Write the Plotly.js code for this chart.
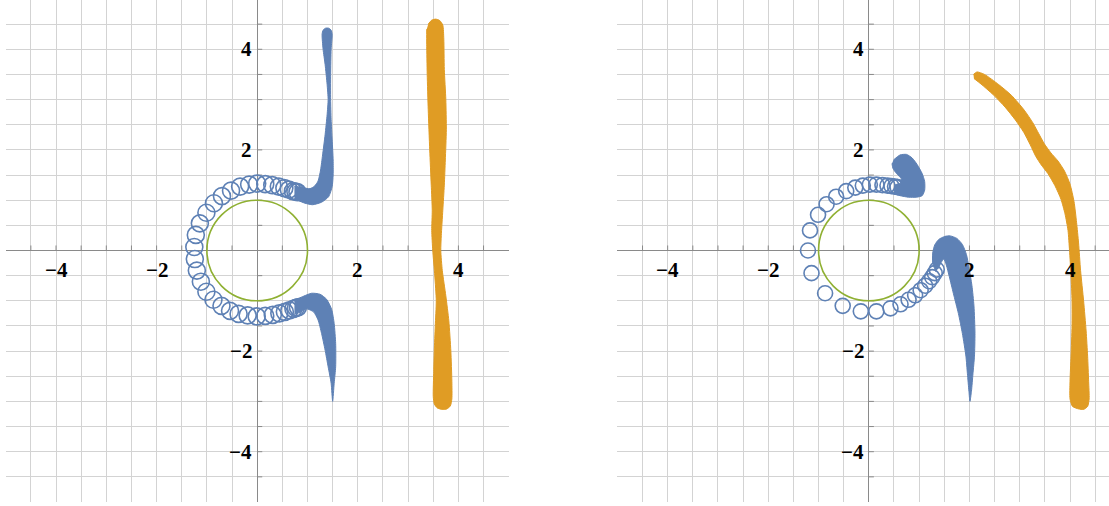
<!DOCTYPE html>
<html>
<head>
<meta charset="utf-8">
<script src="https://cdn.plot.ly/plotly-3.0.1.min.js"></script>
<style>
  html, body { margin: 0; padding: 0; background: #ffffff; }
  #plot { width: 1109px; height: 506px; }
</style>
</head>
<body>
<div id="plot"></div>
<script>
// ---------- axes ----------
const xRangeLeft = [-5, 5];
const xRangeRight = [-5, 4.775];
const yRange = [-5, 4.98];
const minorTickValues = [-4.5, -4, -3.5, -3, -2.5, -2, -1.5, -1, -0.5, 0.5, 1, 1.5, 2, 2.5, 3, 3.5, 4, 4.5];
const labelValues = [-4, -2, 2, 4];
const labelText = ['\u22124', '\u22122', '2', '4'];

// ---------- unit circle ----------
const circleCenter = [0, 0];
const circleRadius = 1;

// ---------- left panel ----------
// small loops around the unit circle (centres)
const leftLoopX = [-1.25, -1.22, -1.14, -1.01, -0.86, -0.70, -0.52, -0.34, -0.16, 0.00, 0.16, 0.30, 0.43, 0.54, 0.63, 0.71, 0.76, 0.80,
                   -1.24, -1.20, -1.12, -1.01, -0.87, -0.71, -0.54, -0.37, -0.19, -0.01, 0.16, 0.31, 0.44, 0.55, 0.64, 0.72, 0.77, 0.81];
const leftLoopY = [0.07, 0.31, 0.54, 0.75, 0.94, 1.08, 1.19, 1.27, 1.31, 1.33, 1.32, 1.30, 1.27, 1.24, 1.21, 1.18, 1.17, 1.16,
                   -0.17, -0.40, -0.62, -0.82, -0.98, -1.10, -1.20, -1.26, -1.29, -1.31, -1.30, -1.28, -1.25, -1.22, -1.19, -1.16, -1.14, -1.13];

// dense upper arm (outline)
const leftUpperArmX = [0.74, 0.90, 1.05, 1.14, 1.21, 1.26, 1.30, 1.35, 1.39, 1.41, 1.39, 1.35, 1.31, 1.29, 1.31, 1.36, 1.42, 1.47, 1.49,
                       1.47, 1.46, 1.46, 1.47, 1.49, 1.51, 1.51, 1.49, 1.42, 1.28, 1.10, 0.95, 0.80, 0.74];
const leftUpperArmY = [1.28, 1.25, 1.23, 1.28, 1.38, 1.60, 1.90, 2.30, 2.70, 3.00, 3.30, 3.70, 4.00, 4.30, 4.38, 4.42, 4.42, 4.38, 4.30,
                       4.00, 3.50, 3.00, 2.60, 2.20, 1.80, 1.50, 1.27, 1.07, 0.96, 0.91, 0.94, 1.00, 1.03];

// dense lower arm (outline)
const leftLowerArmX = [0.74, 0.85, 1.08, 1.25, 1.38, 1.48, 1.53, 1.56, 1.56, 1.53, 1.50, 1.47, 1.41, 1.35, 1.28, 1.21, 1.12, 0.98, 0.85, 0.74];
const leftLowerArmY = [-0.98, -0.94, -0.85, -0.87, -0.97, -1.17, -1.45, -1.85, -2.31, -2.64, -3.00, -2.64, -2.31, -1.98, -1.65, -1.38, -1.22, -1.16, -1.23, -1.26];

// orange strand (outline)
const leftOrangeX = [3.40, 3.47, 3.55, 3.63, 3.69, 3.71, 3.72, 3.75, 3.76, 3.74, 3.72, 3.69, 3.66, 3.65, 3.68, 3.75, 3.81, 3.85, 3.87, 3.87,
                     3.84, 3.77, 3.68, 3.58, 3.52, 3.50, 3.51, 3.52, 3.54, 3.56, 3.53, 3.49, 3.47, 3.48, 3.46, 3.43, 3.40, 3.38, 3.37, 3.37];
const leftOrangeY = [4.50, 4.58, 4.60, 4.57, 4.48, 4.20, 3.60, 3.00, 2.40, 1.80, 1.30, 0.80, 0.30, 0.00, -0.40, -0.90, -1.40, -2.00, -2.60, -2.95,
                     -3.09, -3.15, -3.16, -3.13, -3.05, -2.90, -2.40, -2.00, -1.50, -1.00, -0.50, 0.00, 0.40, 0.80, 1.30, 2.00, 2.80, 3.50, 4.10, 4.40];

// ---------- right panel ----------
const rightLoopX = [-1.21, -1.17, -1.01, -0.84, -0.65, -0.45, -0.27, -0.12, 0.02, 0.15, 0.27, 0.37, 0.45, 0.52, 0.57,
                    -1.14, -0.87, -0.52, -0.16, 0.15, 0.43, 0.63, 0.79, 0.92, 1.03, 1.12, 1.20, 1.26, 1.31, 1.35];
const rightLoopY = [0.00, 0.40, 0.71, 0.92, 1.07, 1.18, 1.25, 1.29, 1.31, 1.31, 1.30, 1.29, 1.28, 1.27, 1.26,
                    -0.45, -0.85, -1.10, -1.21, -1.21, -1.15, -1.07, -0.98, -0.89, -0.79, -0.70, -0.61, -0.53, -0.45, -0.38];

// upper hook (outline)
const rightUpperArmX = [0.49, 0.62, 0.75, 0.86, 0.96, 1.06, 1.11, 1.11, 1.06, 0.95, 0.79, 0.62, 0.52, 0.52, 0.63, 0.65, 0.55, 0.48, 0.46];
const rightUpperArmY = [1.80, 1.90, 1.91, 1.84, 1.71, 1.53, 1.37, 1.20, 1.09, 1.06, 1.06, 1.09, 1.13, 1.30, 1.34, 1.42, 1.53, 1.63, 1.73];

// lower arm (outline)
const rightLowerArmX = [1.33, 1.27, 1.27, 1.31, 1.39, 1.51, 1.62, 1.75, 1.86, 1.94, 1.99, 2.05, 2.09, 2.11, 2.10, 2.07, 2.04, 2.01,
                        1.99, 1.96, 1.93, 1.86, 1.78, 1.68, 1.60, 1.54, 1.49, 1.43, 1.38];
const rightLowerArmY = [-0.42, -0.25, -0.05, 0.11, 0.22, 0.28, 0.29, 0.24, 0.12, -0.08, -0.33, -0.70, -1.10, -1.65, -2.10, -2.45, -2.80, -3.00,
                        -2.80, -2.45, -2.10, -1.65, -1.25, -0.85, -0.52, -0.29, -0.17, -0.25, -0.36];

// orange strand (outline)
const rightOrangeX = [2.08, 2.15, 2.30, 2.58, 2.84, 3.09, 3.26, 3.38, 3.49, 3.62, 3.76, 3.89, 4.00, 4.08, 4.13, 4.17, 4.21, 4.27, 4.32, 4.35, 4.37, 4.38,
                      4.35, 4.27, 4.17, 4.05, 4.00, 4.00, 4.02, 4.04, 4.04, 4.02, 3.99, 3.96, 3.90, 3.82, 3.70, 3.56, 3.43, 3.32, 3.21, 3.08, 2.91, 2.71, 2.47, 2.23, 2.09];
const rightOrangeY = [3.50, 3.55, 3.50, 3.30, 3.08, 2.79, 2.54, 2.32, 2.12, 1.94, 1.78, 1.58, 1.32, 0.97, 0.56, 0.15, -0.40, -1.00, -1.60, -2.10, -2.60, -2.95,
                      -3.10, -3.16, -3.15, -3.10, -2.95, -2.60, -2.10, -1.50, -1.00, -0.50, 0.00, 0.40, 0.73, 1.02, 1.29, 1.53, 1.70, 1.87, 2.10, 2.35, 2.60, 2.85, 3.10, 3.31, 3.42];

// ---------- styles ----------
const BLUE = '#5e81b5';
const ORANGE = '#e09c24';
const GREEN = '#8fb032';
const AXIS = '#8a8a8a';
const GRID = '#d3d3d3';
const TICK_LEN = 0.1;
const LABEL_FONT = { family: 'Liberation Serif, Times New Roman, serif', size: 21, color: '#000000' };

function loops(x, y, xa, ya, size) {
  return { type: 'scatter', mode: 'markers', x: x, y: y, xaxis: xa, yaxis: ya, hoverinfo: 'skip',
           marker: { symbol: 'circle-open', size: size, color: BLUE, line: { width: 1.6 } } };
}
function band(x, y, color, xa, ya) {
  return { type: 'scatter', mode: 'lines', x: x, y: y, xaxis: xa, yaxis: ya, fill: 'toself',
           fillcolor: color, line: { color: color, width: 1, shape: 'spline', smoothing: 0.6 }, hoverinfo: 'skip' };
}
function axisTicks(xa, ya) {
  const hx = [], hy = [], vx = [], vy = [];
  minorTickValues.forEach(v => {
    hx.push(v, v, null); hy.push(0, TICK_LEN, null);
    vx.push(0, TICK_LEN, null); vy.push(v, v, null);
  });
  return { type: 'scatter', mode: 'lines', x: hx.concat(vx), y: hy.concat(vy), xaxis: xa, yaxis: ya,
           line: { color: AXIS, width: 1 }, hoverinfo: 'skip' };
}
function labels(xref, yref) {
  const out = [];
  labelValues.forEach((v, i) => {
    out.push({ x: v, y: 0, xref: xref, yref: yref, text: '<b>' + labelText[i] + '</b>', showarrow: false,
               xanchor: 'center', yanchor: 'top', yshift: -5, font: LABEL_FONT });
    out.push({ x: 0, y: v, xref: xref, yref: yref, text: '<b>' + labelText[i] + '</b>', showarrow: false,
               xanchor: 'right', yanchor: 'middle', xshift: -3, font: LABEL_FONT });
  });
  return out;
}
function unitCircle(xref, yref) {
  return { type: 'circle', xref: xref, yref: yref,
           x0: circleCenter[0] - circleRadius, x1: circleCenter[0] + circleRadius,
           y0: circleCenter[1] - circleRadius, y1: circleCenter[1] + circleRadius,
           line: { color: GREEN, width: 1.6 }, layer: 'above' };
}

const data = [
  axisTicks('x', 'y'),
  loops(leftLoopX, leftLoopY, 'x', 'y', 17),
  band(leftUpperArmX, leftUpperArmY, BLUE, 'x', 'y'),
  band(leftLowerArmX, leftLowerArmY, BLUE, 'x', 'y'),
  band(leftOrangeX, leftOrangeY, ORANGE, 'x', 'y'),
  axisTicks('x2', 'y2'),
  loops(rightLoopX, rightLoopY, 'x2', 'y2', 15),
  band(rightUpperArmX, rightUpperArmY, BLUE, 'x2', 'y2'),
  band(rightLowerArmX, rightLowerArmY, BLUE, 'x2', 'y2'),
  band(rightOrangeX, rightOrangeY, ORANGE, 'x2', 'y2')
];

const axisCommon = {
  showgrid: true, gridcolor: GRID, gridwidth: 1, dtick: 0.5, tick0: 0,
  zeroline: true, zerolinecolor: AXIS, zerolinewidth: 1,
  showticklabels: false, ticks: '', showline: false, fixedrange: true
};

const layout = {
  width: 1109, height: 506,
  margin: { l: 0, r: 0, t: 0, b: 4, pad: 0 },
  paper_bgcolor: '#ffffff', plot_bgcolor: '#ffffff',
  showlegend: false,
  xaxis: Object.assign({}, axisCommon, { domain: [0.00514, 0.4587], range: xRangeLeft, anchor: 'y' }),
  yaxis: Object.assign({}, axisCommon, { domain: [0, 1], range: yRange, anchor: 'x' }),
  xaxis2: Object.assign({}, axisCommon, { domain: [0.5567, 1], range: xRangeRight, anchor: 'y2' }),
  yaxis2: Object.assign({}, axisCommon, { domain: [0, 1], range: yRange, anchor: 'x2' }),
  shapes: [unitCircle('x', 'y'), unitCircle('x2', 'y2')],
  annotations: labels('x', 'y').concat(labels('x2', 'y2'))
};

Plotly.newPlot('plot', data, layout, { staticPlot: true, displayModeBar: false });
</script>
</body>
</html>
